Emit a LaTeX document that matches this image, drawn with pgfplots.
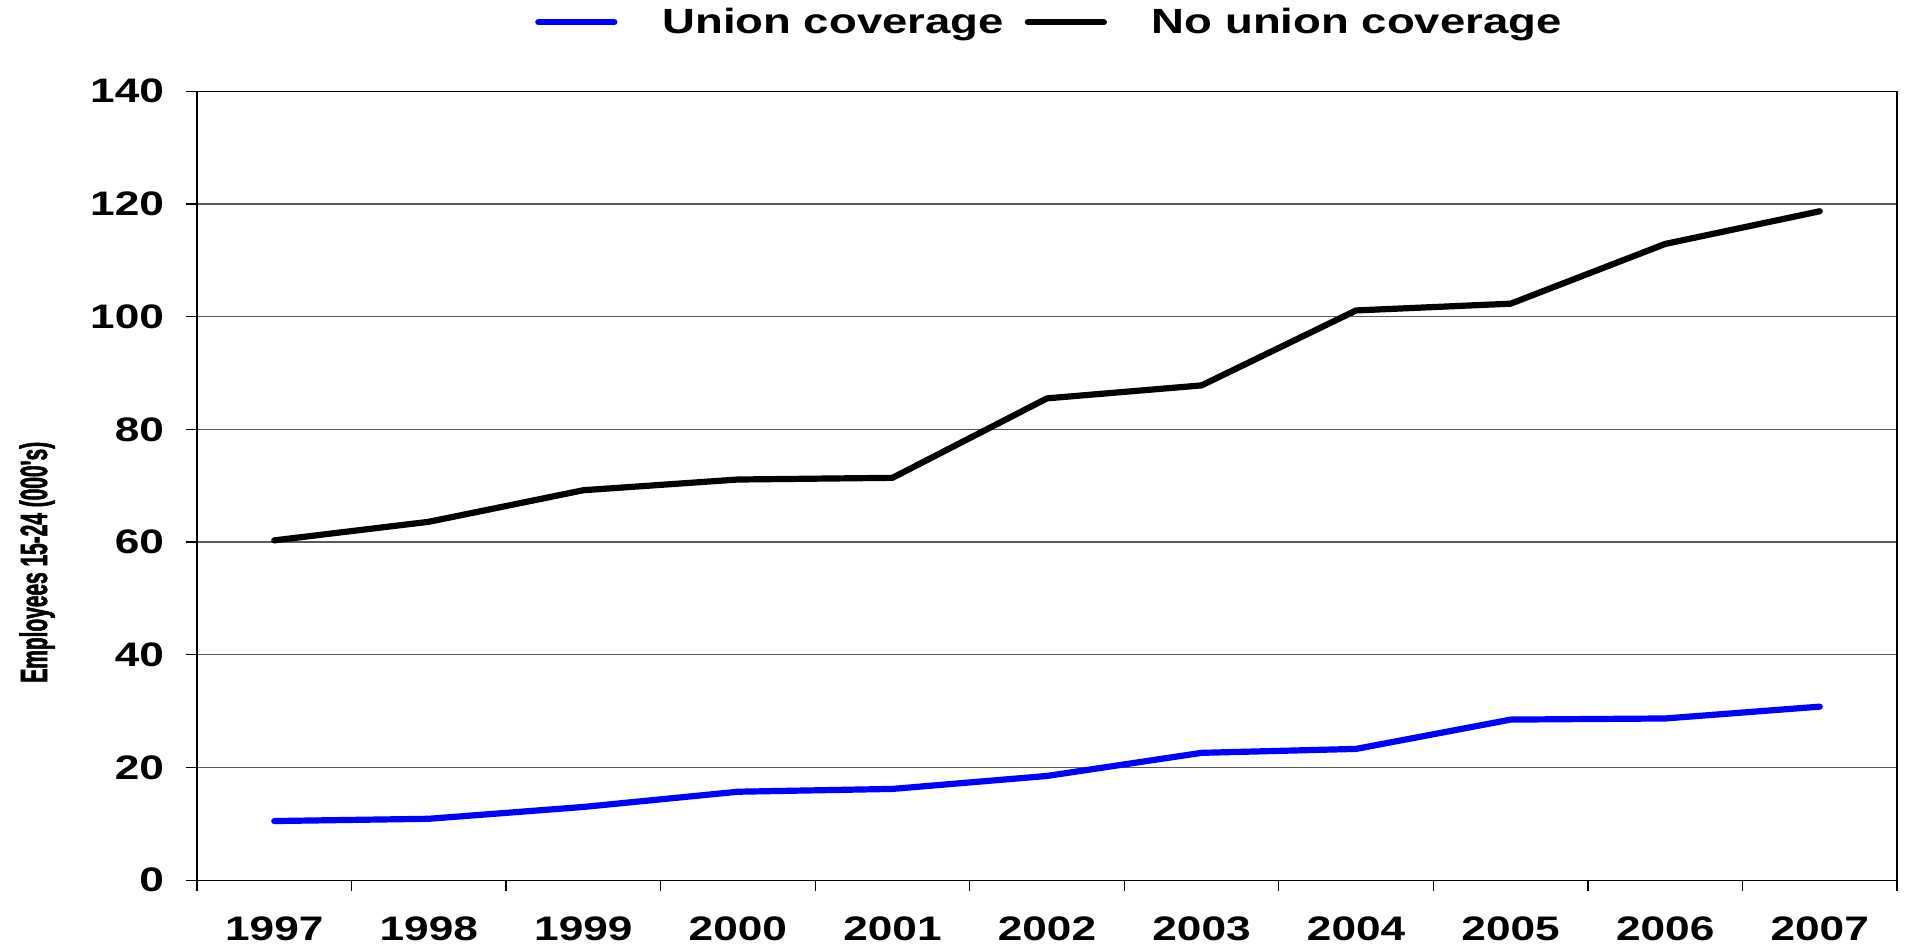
\documentclass[border=0pt]{standalone}
\usepackage{fontspec}
\setmainfont{Liberation Sans}[FakeStretch=1.3]
\newfontfamily\ylabfont{Liberation Sans}[FakeStretch=0.55, FakeBold=1.5]
\usepackage{pgfplots}
\pgfplotsset{compat=1.18}

\begin{document}
\begin{tikzpicture}
\begin{axis}[
    name=ax,
    scale only axis,
    width=850pt, height=394.5pt,
    xmin=0.5, xmax=11.5,
    ymin=0, ymax=140,
    xtick={1,...,11},
    xticklabels={1997,1998,1999,2000,2001,2002,2003,2004,2005,2006,2007},
    minor xtick={0.5,1.5,...,11.5},
    ytick={0,20,...,140},
    major x tick style={draw=none},
    tick align=outside,
    major tick length=5.5pt,
    minor tick length=5.5pt,
    xtick pos=bottom, ytick pos=left,
    ymajorgrids,
    major grid style={black!65, line width=0.6pt},
    axis line style={black, line width=0.6pt},
    every tick/.style={black, line width=0.6pt},
    /pgf/number format/assume math mode=true,
    tick label style={font=\fontsize{17}{20}\selectfont\bfseries},
    xticklabel style={yshift=-9pt},
    yticklabel style={xshift=-7.5pt},
    ylabel={Employees 15-24 (000's)},
    ylabel style={font=\ylabfont\fontsize{19}{22}\selectfont\bfseries,
        at={(axis description cs:-0.094,0.403)}, anchor=center, rotate=0},
    legend style={at={(axis description cs:0.502,1.0875)}, anchor=center,
        draw=none, fill=none, legend columns=-1,
        font=\fontsize{17.5}{20}\selectfont\bfseries,
        /tikz/every odd column/.append style={column sep=20.5pt},
        /tikz/every even column/.append style={column sep=8.5pt}},
    legend image code/.code={\draw[#1] (0pt,0pt) -- (38pt,0pt);},
    every axis plot/.append style={line width=3.1pt, line cap=round, line join=round},
]
\addplot[blue] coordinates {(1,10.5) (2,10.9) (3,13.0) (4,15.7) (5,16.2) (6,18.5) (7,22.6) (8,23.3) (9,28.5) (10,28.7) (11,30.8)};
\addlegendentry{Union coverage}
\addplot[black] coordinates {(1,60.3) (2,63.6) (3,69.2) (4,71.1) (5,71.4) (6,85.5) (7,87.8) (8,101.1) (9,102.3) (10,112.9) (11,118.7)};
\addlegendentry{No union coverage}
\end{axis}
\path ([shift={(-98.5pt,-34pt)}]ax.south west) rectangle ([shift={(5pt,45.5pt)}]ax.north east);
\end{tikzpicture}
\end{document}
